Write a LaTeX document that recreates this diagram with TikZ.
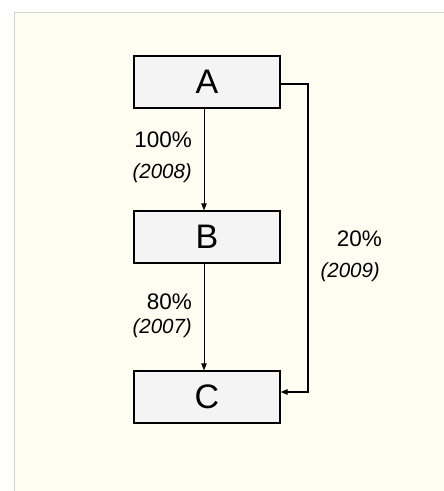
\documentclass[tikz,border=0pt]{standalone}
\usepackage{fontspec}
\setmainfont{Liberation Sans}
\usetikzlibrary{arrows.meta}
\definecolor{panel}{HTML}{FDFEF1}
\definecolor{panelline}{HTML}{D4D4D4}
\definecolor{boxfill}{HTML}{F4F4F4}
\begin{document}
\begin{tikzpicture}[x=1pt,y=-1pt,
  stage/.style={draw=black,line width=1.3pt,fill=boxfill,minimum width=146pt,minimum height=52pt,inner sep=0pt,font=\fontsize{34}{34}\selectfont},
  flow/.style={line width=0.8pt,-{Triangle[length=7pt,width=5.5pt]}},
  bypass/.style={line width=1.4pt,-{Triangle[length=7pt,width=5.5pt]}},
  pct/.style={font=\fontsize{22.5}{22.5}\selectfont,inner sep=0pt},
  yr/.style={font=\fontsize{20.5}{20.5}\selectfont\itshape,inner sep=0pt}]
  \useasboundingbox (0,0) rectangle (444,491);
  \fill[white] (0,0) rectangle (444,491);
  \fill[panel] (14,12) rectangle (444,491);
  \draw[panelline,line width=0.8pt] (14,491) -- (14,12) -- (444,12);

  \node[stage] (A) at (207,82) {A};
  \node[stage] (B) at (207,237) {B};
  \node[stage] (C) at (207,397) {C};

  \draw[flow] (A.south -| 204,0) -- (B.north -| 204,0);
  \draw[flow] (B.south -| 204,0) -- (C.north -| 204,0);

  \coordinate (top) at (308,84);
  \coordinate (bot) at (308,392);
  \draw[bypass] (A.east |- top) -- (top) -- (bot) -- (C.east |- bot);

  \node[pct,anchor=east] (p1) at (192,140) {100\%};
  \node[yr,anchor=east] (y1) at (192,173) {(2008)};
  \node[pct,anchor=east] (p2) at (192,302) {80\%};
  \node[yr,anchor=east] (y2) at (192,328) {(2007)};
  \node[pct,anchor=east] (p3) at (382,239) {20\%};
  \node[yr,anchor=east] (y3) at (380,272) {(2009)};
\end{tikzpicture}
\end{document}
